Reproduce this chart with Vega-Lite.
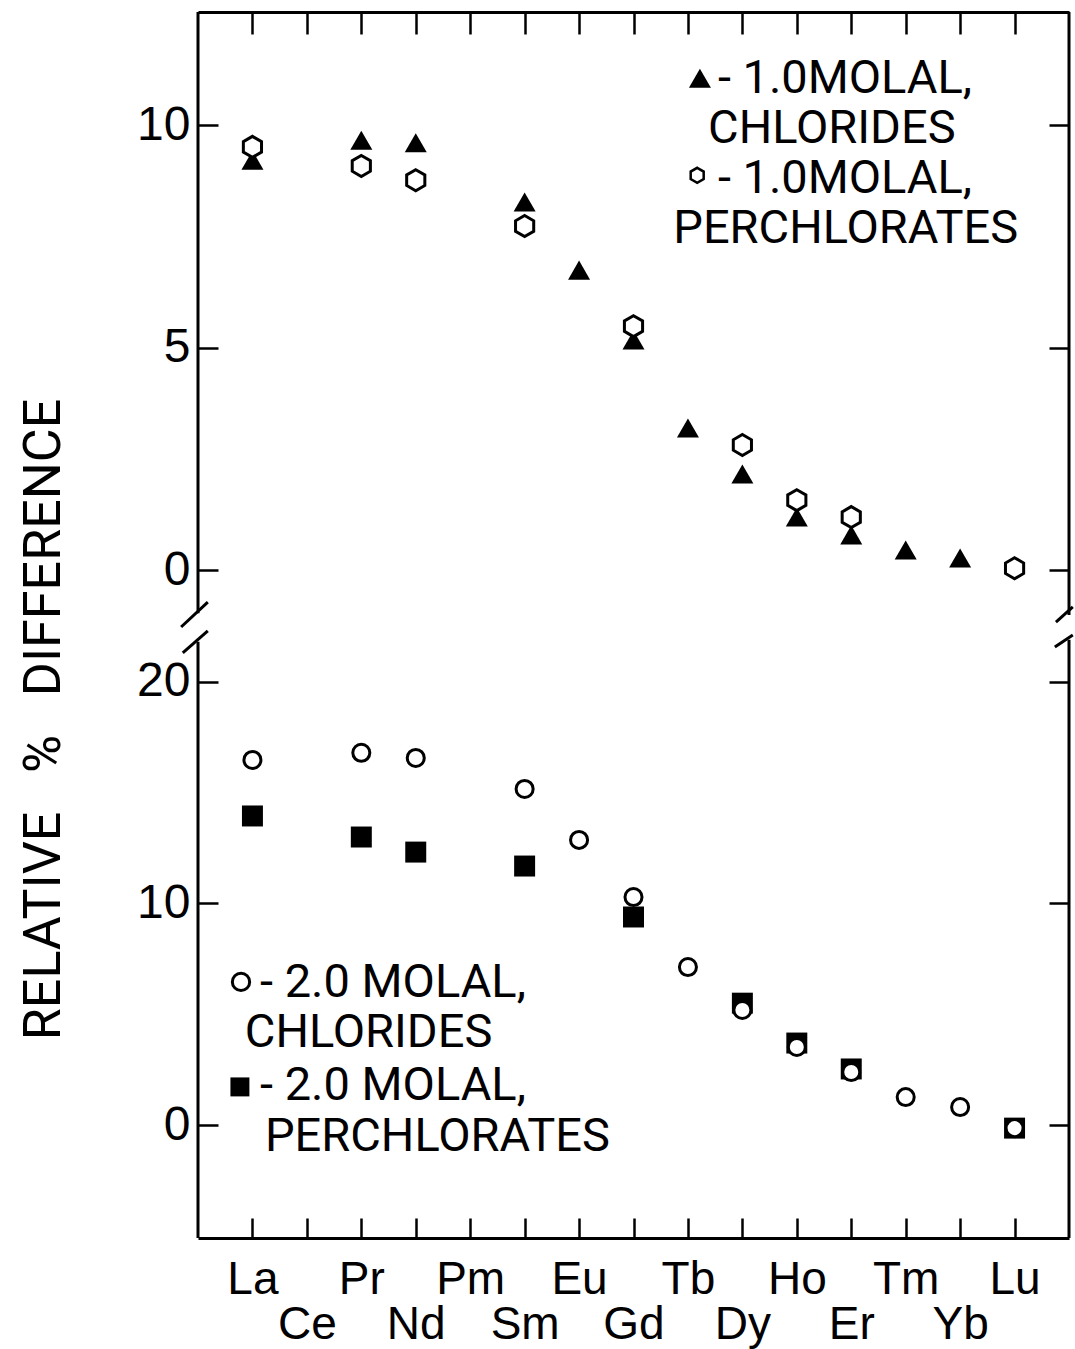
{
  "$schema": "https://vega.github.io/schema/vega-lite/v6.json",
  "background": "white",
  "padding": {"left": 16, "top": 10, "right": 2, "bottom": 2},
  "spacing": 0,
  "bounds": "flush",
  "config": {
    "view": {"stroke": null},
    "font": "Liberation Sans",
    "axis": {"domainColor": "black", "tickColor": "black", "labelColor": "black", "titleColor": "black", "labelFont": "Liberation Sans", "titleFont": "Roboto", "tickWidth": 2.5, "domainWidth": 3, "grid": false}
  },
  "datasets": {
    "obs": [
      {"element": "La", "Z": 57, "molality": 1.0, "salt": "chlorides", "diff": 9.21},
      {"element": "Pr", "Z": 59, "molality": 1.0, "salt": "chlorides", "diff": 9.66},
      {"element": "Nd", "Z": 60, "molality": 1.0, "salt": "chlorides", "diff": 9.60},
      {"element": "Sm", "Z": 62, "molality": 1.0, "salt": "chlorides", "diff": 8.27},
      {"element": "Eu", "Z": 63, "molality": 1.0, "salt": "chlorides", "diff": 6.74},
      {"element": "Gd", "Z": 64, "molality": 1.0, "salt": "chlorides", "diff": 5.17},
      {"element": "Tb", "Z": 65, "molality": 1.0, "salt": "chlorides", "diff": 3.19},
      {"element": "Dy", "Z": 66, "molality": 1.0, "salt": "chlorides", "diff": 2.16},
      {"element": "Ho", "Z": 67, "molality": 1.0, "salt": "chlorides", "diff": 1.19},
      {"element": "Er", "Z": 68, "molality": 1.0, "salt": "chlorides", "diff": 0.79},
      {"element": "Tm", "Z": 69, "molality": 1.0, "salt": "chlorides", "diff": 0.45},
      {"element": "Yb", "Z": 70, "molality": 1.0, "salt": "chlorides", "diff": 0.27},
      {"element": "La", "Z": 57, "molality": 1.0, "salt": "perchlorates", "diff": 9.51},
      {"element": "Pr", "Z": 59, "molality": 1.0, "salt": "perchlorates", "diff": 9.08},
      {"element": "Nd", "Z": 60, "molality": 1.0, "salt": "perchlorates", "diff": 8.76},
      {"element": "Sm", "Z": 62, "molality": 1.0, "salt": "perchlorates", "diff": 7.73},
      {"element": "Gd", "Z": 64, "molality": 1.0, "salt": "perchlorates", "diff": 5.48},
      {"element": "Dy", "Z": 66, "molality": 1.0, "salt": "perchlorates", "diff": 2.81},
      {"element": "Ho", "Z": 67, "molality": 1.0, "salt": "perchlorates", "diff": 1.57},
      {"element": "Er", "Z": 68, "molality": 1.0, "salt": "perchlorates", "diff": 1.19},
      {"element": "Lu", "Z": 71, "molality": 1.0, "salt": "perchlorates", "diff": 0.04},
      {"element": "La", "Z": 57, "molality": 2.0, "salt": "chlorides", "diff": 16.48},
      {"element": "Pr", "Z": 59, "molality": 2.0, "salt": "chlorides", "diff": 16.80},
      {"element": "Nd", "Z": 60, "molality": 2.0, "salt": "chlorides", "diff": 16.57},
      {"element": "Sm", "Z": 62, "molality": 2.0, "salt": "chlorides", "diff": 15.17},
      {"element": "Eu", "Z": 63, "molality": 2.0, "salt": "chlorides", "diff": 12.87},
      {"element": "Gd", "Z": 64, "molality": 2.0, "salt": "chlorides", "diff": 10.29},
      {"element": "Tb", "Z": 65, "molality": 2.0, "salt": "chlorides", "diff": 7.13},
      {"element": "Dy", "Z": 66, "molality": 2.0, "salt": "chlorides", "diff": 5.19},
      {"element": "Ho", "Z": 67, "molality": 2.0, "salt": "chlorides", "diff": 3.52},
      {"element": "Er", "Z": 68, "molality": 2.0, "salt": "chlorides", "diff": 2.39},
      {"element": "Tm", "Z": 69, "molality": 2.0, "salt": "chlorides", "diff": 1.26},
      {"element": "Yb", "Z": 70, "molality": 2.0, "salt": "chlorides", "diff": 0.81},
      {"element": "Lu", "Z": 71, "molality": 2.0, "salt": "chlorides", "diff": -0.14},
      {"element": "La", "Z": 57, "molality": 2.0, "salt": "perchlorates", "diff": 13.95},
      {"element": "Pr", "Z": 59, "molality": 2.0, "salt": "perchlorates", "diff": 13.00},
      {"element": "Nd", "Z": 60, "molality": 2.0, "salt": "perchlorates", "diff": 12.32},
      {"element": "Sm", "Z": 62, "molality": 2.0, "salt": "perchlorates", "diff": 11.69},
      {"element": "Gd", "Z": 64, "molality": 2.0, "salt": "perchlorates", "diff": 9.39},
      {"element": "Dy", "Z": 66, "molality": 2.0, "salt": "perchlorates", "diff": 5.50},
      {"element": "Ho", "Z": 67, "molality": 2.0, "salt": "perchlorates", "diff": 3.70},
      {"element": "Er", "Z": 68, "molality": 2.0, "salt": "perchlorates", "diff": 2.53},
      {"element": "Lu", "Z": 71, "molality": 2.0, "salt": "perchlorates", "diff": -0.14}
    ],
    "note": [{}]
  },
  "vconcat": [
    {
      "width": 871,
      "height": 615,
      "resolve": {"axis": {"y": "independent"}},
      "layer": [
        {
          "data": {"name": "obs"},
          "transform": [{"filter": "datum.molality == 1 && datum.salt == 'chlorides'"}],
          "mark": {"type": "point", "shape": "triangle-up", "filled": true, "color": "black", "opacity": 1, "size": 484},
          "encoding": {
            "x": {"field": "Z", "type": "quantitative", "scale": {"domain": [56, 72], "nice": false, "zero": false},
                  "axis": {"orient": "top", "values": [57,58,59,60,61,62,63,64,65,66,67,68,69,70,71], "labels": false, "tickSize": -22, "title": null}},
            "y": {"field": "diff", "type": "quantitative", "scale": {"domain": [-1.28, 12.54], "nice": false, "zero": false},
                  "axis": {"values": [0, 5, 10], "tickSize": -20, "domain": false, "title": null, "labelFontSize": 48, "labelPadding": 28, "labelBaseline": "middle"}}
          }
        },
        {
          "data": {"name": "obs"},
          "transform": [{"filter": "datum.molality == 1 && datum.salt == 'perchlorates'"}],
          "mark": {"type": "point", "shape": "M0,-1L0.866,-0.5L0.866,0.5L0,1L-0.866,0.5L-0.866,-0.5Z", "filled": true, "fill": "white", "stroke": "black", "strokeWidth": 3, "opacity": 1, "size": 440},
          "encoding": {
            "x": {"field": "Z", "type": "quantitative",
                  "axis": {"orient": "top", "values": [57,58,59,60,61,62,63,64,65,66,67,68,69,70,71], "labels": false, "tickSize": -22, "title": null}},
            "y": {"field": "diff", "type": "quantitative",
                  "axis": {"orient": "right", "values": [0, 5, 10], "tickSize": -20, "domain": false, "labels": false, "title": null}}
          }
        },
        {
          "data": {"name": "note"},
          "mark": {"type": "rule", "color": "black", "strokeWidth": 3},
          "encoding": {"x": {"datum": 56, "type": "quantitative", "axis": {"orient": "top", "values": [57,58,59,60,61,62,63,64,65,66,67,68,69,70,71], "labels": false, "tickSize": -22, "title": null}}, "y": {"datum": -0.97, "type": "quantitative", "axis": null}, "y2": {"datum": 12.54}}
        },
        {
          "data": {"name": "note"},
          "mark": {"type": "rule", "color": "black", "strokeWidth": 3},
          "encoding": {"x": {"datum": 72, "type": "quantitative", "axis": {"orient": "top", "values": [57,58,59,60,61,62,63,64,65,66,67,68,69,70,71], "labels": false, "tickSize": -22, "title": null}}, "y": {"datum": -1.01, "type": "quantitative", "axis": null}, "y2": {"datum": 12.54}}
        },
        {
          "data": {"name": "note"},
          "mark": {"type": "rule", "color": "black", "strokeWidth": 3},
          "encoding": {"x": {"datum": 55.69, "type": "quantitative", "axis": {"orient": "top", "values": [57,58,59,60,61,62,63,64,65,66,67,68,69,70,71], "labels": false, "tickSize": -22, "title": null}}, "x2": {"datum": 56.18}, "y": {"datum": -1.28, "type": "quantitative", "axis": null}, "y2": {"datum": -0.72}}
        },
        {
          "data": {"name": "note"},
          "mark": {"type": "rule", "color": "black", "strokeWidth": 3},
          "encoding": {"x": {"datum": 71.76, "type": "quantitative", "axis": {"orient": "top", "values": [57,58,59,60,61,62,63,64,65,66,67,68,69,70,71], "labels": false, "tickSize": -22, "title": null}}, "x2": {"datum": 72.07}, "y": {"datum": -1.17, "type": "quantitative", "axis": null}, "y2": {"datum": -0.83}}
        },
        {
          "data": {"name": "note"},
          "mark": {"type": "point", "shape": "triangle-up", "filled": true, "color": "black", "opacity": 1, "size": 484},
          "encoding": {"x": {"datum": 65.22, "type": "quantitative", "axis": {"orient": "top", "values": [57,58,59,60,61,62,63,64,65,66,67,68,69,70,71], "labels": false, "tickSize": -22, "title": null}}, "y": {"datum": 11.05, "type": "quantitative", "axis": null}}
        },
        {
          "data": {"name": "note"},
          "mark": {"type": "point", "shape": "M0,-1L0.866,-0.5L0.866,0.5L0,1L-0.866,0.5L-0.866,-0.5Z", "filled": true, "fill": "white", "stroke": "black", "strokeWidth": 2.5, "opacity": 1, "size": 225},
          "encoding": {"x": {"datum": 65.17, "type": "quantitative", "axis": {"orient": "top", "values": [57,58,59,60,61,62,63,64,65,66,67,68,69,70,71], "labels": false, "tickSize": -22, "title": null}}, "y": {"datum": 8.87, "type": "quantitative", "axis": null}}
        },
        {
          "data": {"name": "note"},
          "mark": {"type": "text", "text": "- 1.0MOLAL,", "align": "left", "baseline": "alphabetic", "font": "Roboto", "fontSize": 47, "color": "black"},
          "encoding": {"x": {"datum": 65.55, "type": "quantitative", "axis": {"orient": "top", "values": [57,58,59,60,61,62,63,64,65,66,67,68,69,70,71], "labels": false, "tickSize": -22, "title": null}}, "y": {"datum": 10.72, "type": "quantitative", "axis": null}}
        },
        {
          "data": {"name": "note"},
          "mark": {"type": "text", "text": "CHLORIDES", "align": "left", "baseline": "alphabetic", "font": "Roboto", "fontSize": 47, "color": "black"},
          "encoding": {"x": {"datum": 65.37, "type": "quantitative", "axis": {"orient": "top", "values": [57,58,59,60,61,62,63,64,65,66,67,68,69,70,71], "labels": false, "tickSize": -22, "title": null}}, "y": {"datum": 9.60, "type": "quantitative", "axis": null}}
        },
        {
          "data": {"name": "note"},
          "mark": {"type": "text", "text": "- 1.0MOLAL,", "align": "left", "baseline": "alphabetic", "font": "Roboto", "fontSize": 47, "color": "black"},
          "encoding": {"x": {"datum": 65.55, "type": "quantitative", "axis": {"orient": "top", "values": [57,58,59,60,61,62,63,64,65,66,67,68,69,70,71], "labels": false, "tickSize": -22, "title": null}}, "y": {"datum": 8.47, "type": "quantitative", "axis": null}}
        },
        {
          "data": {"name": "note"},
          "mark": {"type": "text", "text": "PERCHLORATES", "align": "left", "baseline": "alphabetic", "font": "Roboto", "fontSize": 47, "color": "black"},
          "encoding": {"x": {"datum": 64.73, "type": "quantitative", "axis": {"orient": "top", "values": [57,58,59,60,61,62,63,64,65,66,67,68,69,70,71], "labels": false, "tickSize": -22, "title": null}}, "y": {"datum": 7.35, "type": "quantitative", "axis": null}}
        }
      ]
    },
    {
      "width": 871,
      "height": 611,
      "resolve": {"axis": {"y": "independent"}},
      "layer": [
        {
          "data": {"name": "obs"},
          "transform": [{"filter": "datum.molality == 2 && datum.salt == 'perchlorates'"}],
          "mark": {"type": "point", "shape": "square", "filled": true, "color": "black", "opacity": 1, "size": 440},
          "encoding": {
            "x": {"field": "Z", "type": "quantitative", "scale": {"domain": [56, 72], "nice": false, "zero": false},
                  "axis": {"orient": "bottom", "values": [57,58,59,60,61,62,63,64,65,66,67,68,69,70,71], "tickSize": -20, "title": null, "labelExpr": "datum.value % 2 == 0 ? ['', ['La','Ce','Pr','Nd','Pm','Sm','Eu','Gd','Tb','Dy','Ho','Er','Tm','Yb','Lu'][datum.value - 57]] : ['La','Ce','Pr','Nd','Pm','Sm','Eu','Gd','Tb','Dy','Ho','Er','Tm','Yb','Lu'][datum.value - 57]", "labelFontSize": 46, "labelBaseline": "top", "labelLineHeight": 45, "labelPadding": 39, "labelOverlap": false, "labelFlush": false}},
            "y": {"field": "diff", "type": "quantitative", "scale": {"domain": [-5.10, 22.48], "nice": false, "zero": false},
                  "axis": {"values": [0, 10, 20], "tickSize": -20, "domain": false, "labelFontSize": 48, "labelPadding": 28, "labelBaseline": "middle",
                           "title": "RELATIVE\u00a0\u00a0\u00a0%\u00a0\u00a0\u00a0DIFFERENCE", "titleFontSize": 52, "titleFontWeight": "normal", "titleX": -155, "titleY": 92, "titleAlign": "center", "titleBaseline": "middle", "titleAngle": -90}}
          }
        },
        {
          "data": {"name": "obs"},
          "transform": [{"filter": "datum.molality == 2 && datum.salt == 'chlorides'"}],
          "mark": {"type": "point", "shape": "circle", "filled": true, "fill": "white", "stroke": "black", "strokeWidth": 3, "opacity": 1, "size": 290},
          "encoding": {
            "x": {"field": "Z", "type": "quantitative",
                  "axis": {"orient": "bottom", "values": [57,58,59,60,61,62,63,64,65,66,67,68,69,70,71], "tickSize": -20, "title": null, "labelExpr": "datum.value % 2 == 0 ? ['', ['La','Ce','Pr','Nd','Pm','Sm','Eu','Gd','Tb','Dy','Ho','Er','Tm','Yb','Lu'][datum.value - 57]] : ['La','Ce','Pr','Nd','Pm','Sm','Eu','Gd','Tb','Dy','Ho','Er','Tm','Yb','Lu'][datum.value - 57]", "labelFontSize": 46, "labelBaseline": "top", "labelLineHeight": 45, "labelPadding": 39, "labelOverlap": false, "labelFlush": false}},
            "y": {"field": "diff", "type": "quantitative",
                  "axis": {"orient": "right", "values": [0, 10, 20], "tickSize": -20, "domain": false, "labels": false, "title": null}}
          }
        },
        {
          "data": {"name": "note"},
          "mark": {"type": "rule", "color": "black", "strokeWidth": 3},
          "encoding": {"x": {"datum": 56, "type": "quantitative", "axis": {"orient": "bottom", "values": [57,58,59,60,61,62,63,64,65,66,67,68,69,70,71], "tickSize": -20, "title": null, "labelExpr": "datum.value % 2 == 0 ? ['', ['La','Ce','Pr','Nd','Pm','Sm','Eu','Gd','Tb','Dy','Ho','Er','Tm','Yb','Lu'][datum.value - 57]] : ['La','Ce','Pr','Nd','Pm','Sm','Eu','Gd','Tb','Dy','Ho','Er','Tm','Yb','Lu'][datum.value - 57]", "labelFontSize": 46, "labelBaseline": "top", "labelLineHeight": 45, "labelPadding": 39, "labelOverlap": false, "labelFlush": false}}, "y": {"datum": -5.10, "type": "quantitative", "axis": null}, "y2": {"datum": 21.81}}
        },
        {
          "data": {"name": "note"},
          "mark": {"type": "rule", "color": "black", "strokeWidth": 3},
          "encoding": {"x": {"datum": 72, "type": "quantitative", "axis": {"orient": "bottom", "values": [57,58,59,60,61,62,63,64,65,66,67,68,69,70,71], "tickSize": -20, "title": null, "labelExpr": "datum.value % 2 == 0 ? ['', ['La','Ce','Pr','Nd','Pm','Sm','Eu','Gd','Tb','Dy','Ho','Er','Tm','Yb','Lu'][datum.value - 57]] : ['La','Ce','Pr','Nd','Pm','Sm','Eu','Gd','Tb','Dy','Ho','Er','Tm','Yb','Lu'][datum.value - 57]", "labelFontSize": 46, "labelBaseline": "top", "labelLineHeight": 45, "labelPadding": 39, "labelOverlap": false, "labelFlush": false}}, "y": {"datum": -5.10, "type": "quantitative", "axis": null}, "y2": {"datum": 21.9}}
        },
        {
          "data": {"name": "note"},
          "mark": {"type": "rule", "color": "black", "strokeWidth": 3},
          "encoding": {"x": {"datum": 55.72, "type": "quantitative", "axis": {"orient": "bottom", "values": [57,58,59,60,61,62,63,64,65,66,67,68,69,70,71], "tickSize": -20, "title": null, "labelExpr": "datum.value % 2 == 0 ? ['', ['La','Ce','Pr','Nd','Pm','Sm','Eu','Gd','Tb','Dy','Ho','Er','Tm','Yb','Lu'][datum.value - 57]] : ['La','Ce','Pr','Nd','Pm','Sm','Eu','Gd','Tb','Dy','Ho','Er','Tm','Yb','Lu'][datum.value - 57]", "labelFontSize": 46, "labelBaseline": "top", "labelLineHeight": 45, "labelPadding": 39, "labelOverlap": false, "labelFlush": false}}, "x2": {"datum": 56.18}, "y": {"datum": 21.31, "type": "quantitative", "axis": null}, "y2": {"datum": 22.30}}
        },
        {
          "data": {"name": "note"},
          "mark": {"type": "rule", "color": "black", "strokeWidth": 3},
          "encoding": {"x": {"datum": 71.74, "type": "quantitative", "axis": {"orient": "bottom", "values": [57,58,59,60,61,62,63,64,65,66,67,68,69,70,71], "tickSize": -20, "title": null, "labelExpr": "datum.value % 2 == 0 ? ['', ['La','Ce','Pr','Nd','Pm','Sm','Eu','Gd','Tb','Dy','Ho','Er','Tm','Yb','Lu'][datum.value - 57]] : ['La','Ce','Pr','Nd','Pm','Sm','Eu','Gd','Tb','Dy','Ho','Er','Tm','Yb','Lu'][datum.value - 57]", "labelFontSize": 46, "labelBaseline": "top", "labelLineHeight": 45, "labelPadding": 39, "labelOverlap": false, "labelFlush": false}}, "x2": {"datum": 72.07}, "y": {"datum": 21.58, "type": "quantitative", "axis": null}, "y2": {"datum": 22.12}}
        },
        {
          "data": {"name": "note"},
          "mark": {"type": "point", "shape": "circle", "filled": true, "fill": "white", "stroke": "black", "strokeWidth": 3, "opacity": 1, "size": 300},
          "encoding": {"x": {"datum": 56.79, "type": "quantitative", "axis": {"orient": "bottom", "values": [57,58,59,60,61,62,63,64,65,66,67,68,69,70,71], "tickSize": -20, "title": null, "labelExpr": "datum.value % 2 == 0 ? ['', ['La','Ce','Pr','Nd','Pm','Sm','Eu','Gd','Tb','Dy','Ho','Er','Tm','Yb','Lu'][datum.value - 57]] : ['La','Ce','Pr','Nd','Pm','Sm','Eu','Gd','Tb','Dy','Ho','Er','Tm','Yb','Lu'][datum.value - 57]", "labelFontSize": 46, "labelBaseline": "top", "labelLineHeight": 45, "labelPadding": 39, "labelOverlap": false, "labelFlush": false}}, "y": {"datum": 6.46, "type": "quantitative", "axis": null}}
        },
        {
          "data": {"name": "note"},
          "mark": {"type": "point", "shape": "square", "filled": true, "color": "black", "opacity": 1, "size": 360},
          "encoding": {"x": {"datum": 56.77, "type": "quantitative", "axis": {"orient": "bottom", "values": [57,58,59,60,61,62,63,64,65,66,67,68,69,70,71], "tickSize": -20, "title": null, "labelExpr": "datum.value % 2 == 0 ? ['', ['La','Ce','Pr','Nd','Pm','Sm','Eu','Gd','Tb','Dy','Ho','Er','Tm','Yb','Lu'][datum.value - 57]] : ['La','Ce','Pr','Nd','Pm','Sm','Eu','Gd','Tb','Dy','Ho','Er','Tm','Yb','Lu'][datum.value - 57]", "labelFontSize": 46, "labelBaseline": "top", "labelLineHeight": 45, "labelPadding": 39, "labelOverlap": false, "labelFlush": false}}, "y": {"datum": 1.72, "type": "quantitative", "axis": null}}
        },
        {
          "data": {"name": "note"},
          "mark": {"type": "text", "text": "- 2.0 MOLAL,", "align": "left", "baseline": "alphabetic", "font": "Roboto", "fontSize": 47, "color": "black"},
          "encoding": {"x": {"datum": 57.14, "type": "quantitative", "axis": {"orient": "bottom", "values": [57,58,59,60,61,62,63,64,65,66,67,68,69,70,71], "tickSize": -20, "title": null, "labelExpr": "datum.value % 2 == 0 ? ['', ['La','Ce','Pr','Nd','Pm','Sm','Eu','Gd','Tb','Dy','Ho','Er','Tm','Yb','Lu'][datum.value - 57]] : ['La','Ce','Pr','Nd','Pm','Sm','Eu','Gd','Tb','Dy','Ho','Er','Tm','Yb','Lu'][datum.value - 57]", "labelFontSize": 46, "labelBaseline": "top", "labelLineHeight": 45, "labelPadding": 39, "labelOverlap": false, "labelFlush": false}}, "y": {"datum": 5.78, "type": "quantitative", "axis": null}}
        },
        {
          "data": {"name": "note"},
          "mark": {"type": "text", "text": "CHLORIDES", "align": "left", "baseline": "alphabetic", "font": "Roboto", "fontSize": 47, "color": "black"},
          "encoding": {"x": {"datum": 56.86, "type": "quantitative", "axis": {"orient": "bottom", "values": [57,58,59,60,61,62,63,64,65,66,67,68,69,70,71], "tickSize": -20, "title": null, "labelExpr": "datum.value % 2 == 0 ? ['', ['La','Ce','Pr','Nd','Pm','Sm','Eu','Gd','Tb','Dy','Ho','Er','Tm','Yb','Lu'][datum.value - 57]] : ['La','Ce','Pr','Nd','Pm','Sm','Eu','Gd','Tb','Dy','Ho','Er','Tm','Yb','Lu'][datum.value - 57]", "labelFontSize": 46, "labelBaseline": "top", "labelLineHeight": 45, "labelPadding": 39, "labelOverlap": false, "labelFlush": false}}, "y": {"datum": 3.52, "type": "quantitative", "axis": null}}
        },
        {
          "data": {"name": "note"},
          "mark": {"type": "text", "text": "- 2.0 MOLAL,", "align": "left", "baseline": "alphabetic", "font": "Roboto", "fontSize": 47, "color": "black"},
          "encoding": {"x": {"datum": 57.14, "type": "quantitative", "axis": {"orient": "bottom", "values": [57,58,59,60,61,62,63,64,65,66,67,68,69,70,71], "tickSize": -20, "title": null, "labelExpr": "datum.value % 2 == 0 ? ['', ['La','Ce','Pr','Nd','Pm','Sm','Eu','Gd','Tb','Dy','Ho','Er','Tm','Yb','Lu'][datum.value - 57]] : ['La','Ce','Pr','Nd','Pm','Sm','Eu','Gd','Tb','Dy','Ho','Er','Tm','Yb','Lu'][datum.value - 57]", "labelFontSize": 46, "labelBaseline": "top", "labelLineHeight": 45, "labelPadding": 39, "labelOverlap": false, "labelFlush": false}}, "y": {"datum": 1.15, "type": "quantitative", "axis": null}}
        },
        {
          "data": {"name": "note"},
          "mark": {"type": "text", "text": "PERCHLORATES", "align": "left", "baseline": "alphabetic", "font": "Roboto", "fontSize": 47, "color": "black"},
          "encoding": {"x": {"datum": 57.23, "type": "quantitative", "axis": {"orient": "bottom", "values": [57,58,59,60,61,62,63,64,65,66,67,68,69,70,71], "tickSize": -20, "title": null, "labelExpr": "datum.value % 2 == 0 ? ['', ['La','Ce','Pr','Nd','Pm','Sm','Eu','Gd','Tb','Dy','Ho','Er','Tm','Yb','Lu'][datum.value - 57]] : ['La','Ce','Pr','Nd','Pm','Sm','Eu','Gd','Tb','Dy','Ho','Er','Tm','Yb','Lu'][datum.value - 57]", "labelFontSize": 46, "labelBaseline": "top", "labelLineHeight": 45, "labelPadding": 39, "labelOverlap": false, "labelFlush": false}}, "y": {"datum": -1.17, "type": "quantitative", "axis": null}}
        }
      ]
    }
  ]
}
